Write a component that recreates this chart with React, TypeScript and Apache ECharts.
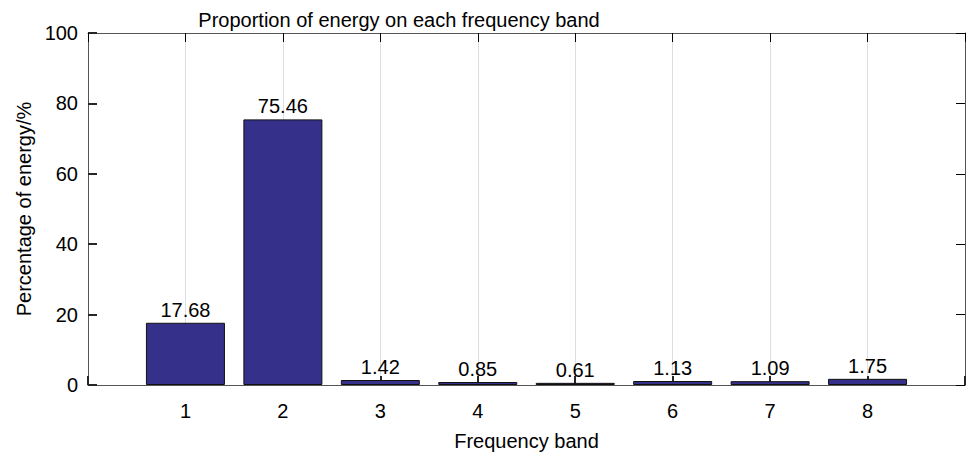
import React, { useEffect, useRef } from "react";
import * as echarts from "echarts";

const bands = [1, 2, 3, 4, 5, 6, 7, 8];
const energy = [17.68, 75.46, 1.42, 0.85, 0.61, 1.13, 1.09, 1.75];
const yTicks = [0, 20, 40, 60, 80, 100];

const FONT = "'Liberation Sans', Arial, Helvetica, sans-serif";
const AX = "#262626";
const FS = 20;

const axisLine = () => ({ show: true, onZero: false });
const axisTick = (length: number, width: number, color: string) => ({
  show: true,
  inside: true,
  length,
  lineStyle: { color, width },
});

export default function App() {
  const ref = useRef<HTMLDivElement>(null);
  useEffect(() => {
    const chart = echarts.init(ref.current!, null, { renderer: "svg" });
    chart.setOption({
      animation: false,
      textStyle: { fontFamily: FONT },
      title: {
        text: "Proportion of energy on each frequency band",
        left: 394,
        textAlign: "center",
        top: 5,
        textStyle: { fontFamily: FONT, fontSize: FS, fontWeight: "normal", color: "#000" },
      },
      grid: { left: 88, right: 2, top: 33, bottom: 69 },
      xAxis: [
        {
          type: "value",
          min: 0,
          max: 9,
          interval: 1,
          name: "Frequency band",
          nameLocation: "middle",
          nameGap: 46,
          nameTextStyle: { fontFamily: FONT, fontSize: FS, color: "#000" },
          axisLine: axisLine(),
          axisTick: axisTick(9, 2, AX),
          splitLine: { show: false },
          axisLabel: {
            fontFamily: FONT,
            fontSize: FS,
            color: "#000",
            margin: 16,
            formatter: (v: number) => (bands.includes(v) ? String(v) : ""),
          },
        },
        {
          type: "value",
          position: "top",
          min: 0,
          max: 9,
          interval: 1,
          axisLine: axisLine(),
          axisTick: axisTick(9, 1, "#000"),
          axisLabel: { show: false },
        },
      ],
      yAxis: [
        {
          type: "value",
          min: yTicks[0],
          max: yTicks[yTicks.length - 1],
          interval: 20,
          name: "Percentage of energy/%",
          nameLocation: "middle",
          nameGap: 54,
          nameTextStyle: { fontFamily: FONT, fontSize: FS, color: "#000" },
          axisLine: axisLine(),
          axisTick: axisTick(9, 2, AX),
          splitLine: { show: false },
          axisLabel: { fontFamily: FONT, fontSize: FS, color: "#000", margin: 10 },
        },
        {
          type: "value",
          position: "right",
          min: yTicks[0],
          max: yTicks[yTicks.length - 1],
          interval: 20,
          axisLine: axisLine(),
          axisTick: axisTick(9, 1, "#000"),
          splitLine: { show: false },
          axisLabel: { show: false },
        },
      ],
      series: [
        {
          type: "bar",
          xAxisIndex: 0,
          yAxisIndex: 0,
          barWidth: 79,
          data: bands.map((b, i) => [b, energy[i]]),
          itemStyle: { color: "#35308a", borderColor: "#111", borderWidth: 1 },
          label: {
            show: true,
            position: "top",
            distance: 3,
            fontFamily: FONT,
            fontSize: FS,
            color: "#000",
            formatter: (p: any) => p.value[1].toFixed(2),
          },
        },
      ],
    });
    return () => chart.dispose();
  }, []);
  return <div ref={ref} style={{ width: 968, height: 456, position: "absolute", left: 0, top: 0 }} />;
}
